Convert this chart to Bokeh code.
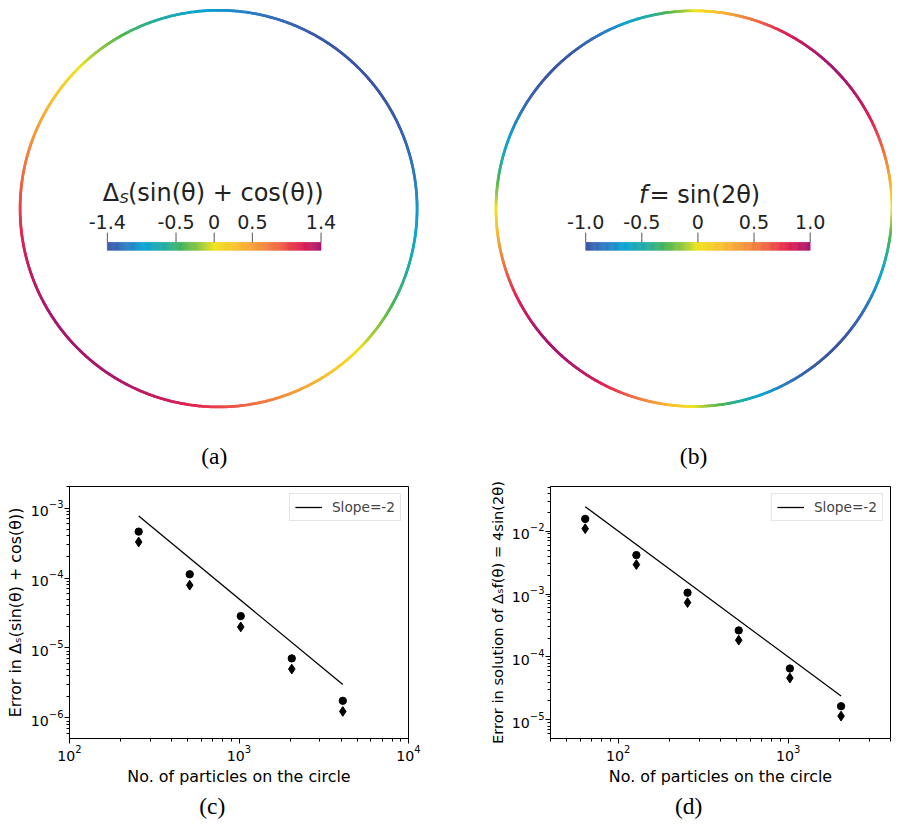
import numpy as np
from bokeh.plotting import figure
from bokeh.layouts import column, row
from bokeh.models import Range1d, FixedTicker, Legend, LegendItem
from bokeh.core.properties import value
from bokeh.embed import file_html
from bokeh.resources import INLINE

# ----------------------------- data -----------------------------
# panel (a): colour bar of Laplace-Beltrami of sin+cos on the unit circle
cbar_a_limits = [-1.4, 1.4]
cbar_a_ticks = [-1.4, -0.5, 0.0, 0.5, 1.4]
cbar_a_labels = ["-1.4", "-0.5", "0", "0.5", "1.4"]
# panel (b): colour bar of f = sin(2 theta)
cbar_b_limits = [-1.0, 1.0]
cbar_b_ticks = [-1.0, -0.5, 0.0, 0.5, 1.0]
cbar_b_labels = ["-1.0", "-0.5", "0", "0.5", "1.0"]

theta = np.linspace(0.0, 2.0 * np.pi, 721)
field_a = -(np.sin(theta) + np.cos(theta))   # Delta_S (sin + cos) on unit circle
field_b = np.sin(2.0 * theta)

# panel (c)
particles_c = [256, 512, 1024, 2048, 4096]
err_c_circle = [4.6e-4, 1.13e-4, 2.86e-5, 7.1e-6, 1.76e-6]
err_c_diamond = [3.27e-4, 7.9e-5, 2.0e-5, 5.0e-6, 1.24e-6]
slope_c_x = [256, 4096]
slope_c_y = [7.7e-4, 3.0e-6]
xlim_c = [1e2, 1e4]
ylim_c = [5.09e-7, 2.03e-3]
xticks_c = [1e2, 1e3, 1e4]
yticks_c = [1e-6, 1e-5, 1e-4, 1e-3]

# panel (d)
particles_d = [64, 128, 256, 512, 1024, 2048]
err_d_circle = [1.56e-2, 4.15e-3, 1.05e-3, 2.64e-4, 6.56e-5, 1.65e-5]
err_d_diamond = [1.09e-2, 2.93e-3, 7.3e-4, 1.85e-4, 4.63e-5, 1.15e-5]
slope_d_x = [64, 2048]
slope_d_y = [2.44e-2, 2.4e-5]
xlim_d = [40, 4000]
ylim_d = [5.07e-6, 5.1e-2]
xticks_d = [1e2, 1e3]
yticks_d = [1e-5, 1e-4, 1e-3, 1e-2]

legend_label = "Slope=-2"
xlabel = "No. of particles on the circle"
ylabel_c = "Error in \u0394\u209b(sin(\u03b8) + cos(\u03b8))"
ylabel_d = "Error in solution of \u0394\u209bf(\u03b8) = 4sin(2\u03b8)"
panel_tags = ["(a)", "(b)", "(c)", "(d)"]

# ----------------------------- style -----------------------------
S = 0.98  # global scale so the page fits the window
CMAP_POS = [0.0, 0.08, 0.17, 0.28, 0.36, 0.44, 0.50, 0.60, 0.70, 0.80, 0.90, 1.0]
CMAP_HEX = ["#3b55a5", "#2f78c0", "#0aa3d6", "#27ae9b", "#4db552", "#9ccb3b",
            "#f0e31e", "#f9c22e", "#f5983a", "#ef6844", "#e3234f", "#a8166e"]
_RGB = np.array([[int(h[i:i + 2], 16) for i in (1, 3, 5)] for h in CMAP_HEX], dtype=float)
TAG_FONT = "Liberation Serif"
TAG_SIZE = 24


def cmap(t):
    t = np.clip(np.asarray(t, dtype=float), 0.0, 1.0)
    ch = [np.interp(t, CMAP_POS, _RGB[:, k]) for k in range(3)]
    return ["#%02x%02x%02x" % (int(round(a)), int(round(b)), int(round(c)))
            for a, b, c in zip(*ch)]


def px(v):
    return f"{v * S:.1f}px"


def circle_panel(field, limits, ticks, labels, geom, title_parts, tag):
    W, H = 455, 485
    cx, cy, r, bx0, bx1 = geom

    def xu(X):
        return (X - cx) / r

    def yu(Y):
        return (cy - Y) / r

    p = figure(width=round(W * S), height=round(H * S),
               x_range=Range1d(xu(0), xu(W)), y_range=Range1d(yu(H), yu(0)),
               x_axis_location=None, y_axis_location=None, min_border=0,
               toolbar_location=None, output_backend="svg")
    p.grid.visible = False
    p.outline_line_color = None

    vmin, vmax = limits
    # ring coloured by the field
    vals = 0.5 * (field[:-1] + field[1:])
    cols = cmap((vals - vmin) / (vmax - vmin))
    p.segment(x0=np.cos(theta[:-1]), y0=np.sin(theta[:-1]),
              x1=np.cos(theta[1:]), y1=np.sin(theta[1:]),
              line_color=cols, line_width=2.8 * S, line_cap="round")

    # colour bar on its own value range
    span = vmax - vmin
    p.extra_x_ranges = {"cb": Range1d(vmin + (0 - bx0) / (bx1 - bx0) * span,
                                      vmin + (W - bx0) / (bx1 - bx0) * span)}
    edges = np.linspace(vmin, vmax, 201)
    bcols = cmap((0.5 * (edges[:-1] + edges[1:]) - vmin) / span)
    p.quad(left=edges[:-1], right=edges[1:], bottom=yu(255), top=yu(247),
           fill_color=bcols, line_color=bcols, line_width=0.6, x_range_name="cb")
    n = len(ticks)
    p.segment(x0=ticks, x1=ticks, y0=[yu(247)] * n, y1=[yu(237)] * n,
              line_color="#555555", line_width=1, x_range_name="cb")
    p.text(x=ticks, y=[yu(226.5)] * n, text=labels, x_range_name="cb",
           text_align="center", text_baseline="alphabetic",
           text_font=value("DejaVu Sans"), text_font_size=px(19.5), text_color="#222222")

    for txt, X, Y, align, size, style in title_parts:
        p.text(x=[xu(X)], y=[yu(Y)], text=[txt], text_align=align,
               text_baseline="alphabetic", text_font=value("DejaVu Sans"),
               text_font_size=px(size), text_font_style=style, text_color="#222222")

    lab, lab_x, lab_y = tag
    p.text(x=[xu(lab_x)], y=[yu(lab_y)], text=[lab], text_align="center",
           text_baseline="middle", text_font=value(TAG_FONT),
           text_font_size=px(TAG_SIZE), text_color="black")
    return p


def minor_ticks(lo, hi):
    out = []
    for e in range(int(np.floor(np.log10(lo))) - 1, int(np.ceil(np.log10(hi))) + 1):
        for m in range(2, 10):
            v = m * 10.0 ** e
            if lo <= v <= hi:
                out.append(v)
    return out


def loglog_panel(frame, xlim, ylim, xticks, yticks, xs, yc, yd, sx, sy, ylabel, ylabel_size):
    W, H = 455, 319
    fl, fr, ft, fb = frame
    p = figure(width=round(W * S), height=round(H * S),
               x_axis_type="log", y_axis_type="log",
               x_range=Range1d(*xlim), y_range=Range1d(*ylim),
               min_border_left=round(fl * S), min_border_right=round((W - fr) * S),
               min_border_top=round(ft * S), min_border_bottom=round((H - fb) * S),
               toolbar_location=None, output_backend="svg")
    p.grid.visible = False
    p.outline_line_color = "black"
    p.outline_line_width = 1
    p.outline_line_alpha = 1

    p.xaxis.ticker = FixedTicker(ticks=xticks, minor_ticks=minor_ticks(*xlim))
    p.yaxis.ticker = FixedTicker(ticks=yticks, minor_ticks=minor_ticks(*ylim))
    for ax in (p.xaxis, p.yaxis):
        ax.axis_line_color = "black"
        ax.major_tick_line_color = "black"
        ax.minor_tick_line_color = "black"
        ax.major_tick_out = 5
        ax.major_tick_in = 0
        ax.minor_tick_out = 3
        ax.minor_tick_in = 0
        ax.major_label_text_font = "DejaVu Sans"
        ax.major_label_text_font_size = px(14.5)
        ax.major_label_text_color = "black"
        ax.axis_label_text_font = "DejaVu Sans"
        ax.axis_label_text_font_style = "normal"
        ax.axis_label_text_color = "black"
        ax.major_label_standoff = 1
        ax.axis_label_standoff = 3
    p.xaxis.axis_label_text_font_size = px(16.2)
    p.yaxis.axis_label_text_font_size = px(ylabel_size)
    p.xaxis.axis_label = xlabel
    p.yaxis.axis_label = ylabel

    ln = p.line(sx, sy, line_color="black", line_width=1.3)
    p.scatter(xs, yc, marker="circle", size=7.5 * S, color="black")
    p.scatter(xs, yd, marker="diamond", size=10 * S, color="black")

    leg = Legend(items=[LegendItem(label=legend_label, renderers=[ln])],
                 location="top_right")
    leg.label_text_font = "DejaVu Sans"
    leg.label_text_font_size = px(14)
    leg.border_line_color = "#cccccc"
    leg.border_line_width = 1
    leg.background_fill_alpha = 0.9
    leg.glyph_width = round(28 * S)
    leg.glyph_height = 14
    leg.label_height = 14
    leg.label_standoff = round(10 * S)
    leg.padding = 5
    leg.margin = 7
    p.add_layout(leg)
    return p


def tag_panel(label, X):
    W, H = 455, 32
    p = figure(width=round(W * S), height=round(H * S),
               x_range=Range1d(0, W), y_range=Range1d(H, 0),
               x_axis_location=None, y_axis_location=None, min_border=0,
               toolbar_location=None, output_backend="svg")
    p.grid.visible = False
    p.outline_line_color = None
    p.text(x=[X], y=[18], text=[label], text_align="center", text_baseline="middle",
           text_font=value(TAG_FONT), text_font_size=px(TAG_SIZE), text_color="black")
    return p


fa = circle_panel(field_a, cbar_a_limits, cbar_a_ticks, cbar_a_labels,
                  (222.5, 212.5, 202.5, 109, 327),
                  [("\u0394", 121, 197, "right", 24.5, "normal"),
                   ("S", 121.5, 201, "left", 15, "italic"),
                   ("(sin(\u03b8) + cos(\u03b8))", 130, 197, "left", 24.5, "normal")],
                  (panel_tags[0], 218, 465))
fb = circle_panel(field_b, cbar_b_limits, cbar_b_ticks, cbar_b_labels,
                  (252.5, 212.5, 202.0, 142, 371),
                  [("f", 205, 199, "right", 24.5, "italic"),
                   ("= sin(2\u03b8)", 207, 199, "left", 24.5, "normal")],
                  (panel_tags[1], 252, 465))

fc = loglog_panel((70, 416, 11, 269), xlim_c, ylim_c, xticks_c, yticks_c,
                  particles_c, err_c_circle, err_c_diamond, slope_c_x, slope_c_y,
                  ylabel_c, 16.2)
fd = loglog_panel((106, 453, 11, 269), xlim_d, ylim_d, xticks_d, yticks_d,
                  particles_d, err_d_circle, err_d_diamond, slope_d_x, slope_d_y,
                  ylabel_d, 15.0)

tc = tag_panel(panel_tags[2], 216)
td = tag_panel(panel_tags[3], 247)

layout = column(row(fa, fb), row(fc, fd), row(tc, td))
open("out.html", "w").write(file_html(layout, INLINE))
